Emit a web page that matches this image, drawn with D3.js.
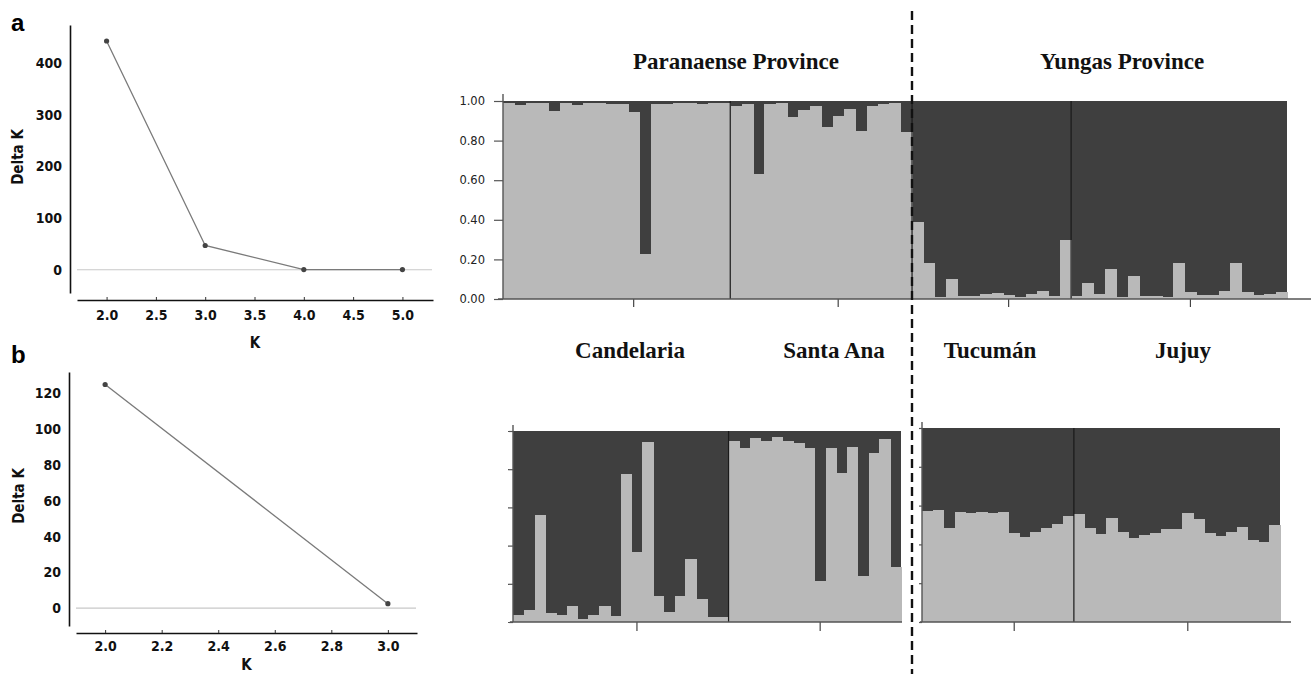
<!DOCTYPE html>
<html lang="en">
<head>
    <meta charset="utf-8">
    <title>Delta K and STRUCTURE plots</title>
    <script type="text/javascript" src="https://cdnjs.cloudflare.com/ajax/libs/d3/7.8.5/d3.min.js"></script>
    <style>
        body { margin: 0; background: #fff; }
        svg { display: block; }
    </style>
</head>
<body>
    <script type="text/javascript">
    // ---- data ----
    var kValuesA = [2, 3, 4, 5];
    var deltaKA = [443, 47, 0.4, 0.3];
    var kValuesB = [2, 3];
    var deltaKB = [125, 2.5];

    var provinces = ["Paranaense Province", "Yungas Province"];
    var populations = ["Candelaria", "Santa Ana", "Tucumán", "Jujuy"];
    var proportionTicks = ["0.00", "0.20", "0.40", "0.60", "0.80", "1.00"];

    // proportion of the light cluster for each individual, K = 2
    var k2Candelaria = [0.99, 0.98, 0.99, 0.99, 0.952, 0.99, 0.98, 0.99, 0.99, 0.983,
                        0.983, 0.944, 0.226, 0.983, 0.983, 0.99, 0.99, 0.983, 0.99, 0.99];
    var k2SantaAna = [0.977, 0.987, 0.633, 0.987, 0.99, 0.919, 0.957, 0.977, 0.868, 0.926,
                      0.962, 0.848, 0.977, 0.985, 0.99, 0.842];
    var k2Tucuman = [0.387, 0.182, 0.012, 0.103, 0.017, 0.017, 0.024, 0.031, 0.018, 0.012,
                     0.024, 0.038, 0.017, 0.30];
    var k2Jujuy = [0.015, 0.082, 0.025, 0.153, 0.012, 0.118, 0.017, 0.015, 0.01, 0.182,
                   0.033, 0.02, 0.02, 0.04, 0.182, 0.033, 0.02, 0.027, 0.033];

    // proportion of the light cluster for each individual, K = 3
    var k3Candelaria = [0.038, 0.061, 0.558, 0.047, 0.038, 0.082, 0.017, 0.038, 0.082, 0.033,
                        0.773, 0.365, 0.942, 0.138, 0.052, 0.138, 0.33, 0.122, 0.024, 0.024];
    var k3SantaAna = [0.948, 0.913, 0.962, 0.948, 0.97, 0.948, 0.939, 0.913, 0.217, 0.913,
                      0.778, 0.918, 0.24, 0.883, 0.956, 0.288];
    var k3Tucuman = [0.572, 0.578, 0.486, 0.569, 0.56, 0.569, 0.56, 0.569, 0.457, 0.436,
                     0.466, 0.486, 0.505, 0.547];
    var k3Jujuy = [0.555, 0.486, 0.452, 0.534, 0.466, 0.431, 0.448, 0.457, 0.478, 0.478,
                   0.56, 0.529, 0.457, 0.443, 0.466, 0.491, 0.422, 0.414, 0.5];

    // individual under the population tick of each group
    var k2TickIndex = [11, 9, 8, 10];
    var k3TickIndex = [11, 8, 8, 10];

    var lightColor = "#b9b9b9",
        darkColor = "#3f3f3f";

    var svg = d3.select("body").append("svg")
        .attr("width", 1311)
        .attr("height", 674);

    // ---- Delta K line charts ----
    function deltaKChart(cfg) {
        var x = d3.scaleLinear().domain(cfg.xDomain).range(cfg.xRange);
        var y = d3.scaleLinear().domain(cfg.yDomain).range(cfg.yRange);
        var g = svg.append("g").attr("class", "deltak");
        var font = "'DejaVu Sans Condensed', 'DejaVu Sans', sans-serif";

        // zero line
        g.append("line")
            .attr("x1", cfg.xRange[0]).attr("x2", cfg.xRange[1] - 1)
            .attr("y1", y(0)).attr("y2", y(0))
            .attr("stroke", "#c8c8c8").attr("stroke-width", 1.2);

        // y axis
        var yAxis = g.append("g")
            .attr("transform", "translate(" + cfg.yAxisX + ",0)")
            .call(d3.axisLeft(y).tickValues(cfg.yTicks).tickSize(0).tickPadding(8));
        // x axis
        var xAxis = g.append("g")
            .attr("transform", "translate(0," + cfg.xAxisY + ")")
            .call(d3.axisBottom(x).tickValues(cfg.xTicks).tickFormat(d3.format(".1f"))
                .tickSizeInner(-3).tickSizeOuter(0).tickPadding(cfg.xPad));

        [yAxis, xAxis].forEach(function(a) {
            a.select(".domain").attr("stroke", "#111").attr("stroke-width", 1.6);
            a.selectAll(".tick line").attr("stroke", "#333");
            a.selectAll("text")
                .attr("font-family", font)
                .attr("font-weight", "bold")
                .attr("font-size", 14)
                .attr("fill", "#111");
        });

        // line and points
        var pts = cfg.k.map(function(d, i) { return [d, cfg.dk[i]]; });
        g.append("path")
            .datum(pts)
            .attr("fill", "none")
            .attr("stroke", "#7a7a7a")
            .attr("stroke-width", 1.3)
            .attr("d", d3.line().x(function(d) { return x(d[0]); }).y(function(d) { return y(d[1]); }));
        g.selectAll(".pt")
            .data(pts)
            .enter().append("circle")
            .attr("cx", function(d) { return x(d[0]); })
            .attr("cy", function(d) { return y(d[1]); })
            .attr("r", 2.6)
            .attr("fill", "#444");

        // axis titles and panel letter
        g.append("text")
            .attr("x", (cfg.xRange[0] + cfg.xRange[1]) / 2)
            .attr("y", cfg.kLabelY)
            .attr("text-anchor", "middle")
            .attr("font-family", font).attr("font-weight", "bold").attr("font-size", 15)
            .attr("fill", "#111")
            .text("K");
        g.append("text")
            .attr("transform", "translate(" + cfg.dkLabel[0] + "," + cfg.dkLabel[1] + ") rotate(-90)")
            .attr("text-anchor", "middle")
            .attr("font-family", font).attr("font-weight", "bold").attr("font-size", 15)
            .attr("fill", "#111")
            .text("Delta K");
        g.append("text")
            .attr("x", 11).attr("y", cfg.letterY)
            .attr("font-family", "'Liberation Sans', Arial, sans-serif")
            .attr("font-weight", "bold").attr("font-size", 24)
            .attr("fill", "#000")
            .text(cfg.letter);
    }

    deltaKChart({
        k: kValuesA, dk: deltaKA,
        xDomain: [1.7, 5.31], xRange: [77, 433],
        yDomain: [-45, 474], yRange: [293, 25],
        yAxisX: 70, xAxisY: 300, xPad: 10,
        yTicks: [0, 100, 200, 300, 400],
        xTicks: [2, 2.5, 3, 3.5, 4, 4.5, 5],
        kLabelY: 348, dkLabel: [23, 157],
        letter: "a", letterY: 31
    });
    deltaKChart({
        k: kValuesB, dk: deltaKB,
        xDomain: [1.897, 3.103], xRange: [76, 417],
        yDomain: [-10, 132], yRange: [626, 372],
        yAxisX: 69, xAxisY: 633, xPad: 8,
        yTicks: [0, 20, 40, 60, 80, 100, 120],
        xTicks: [2, 2.2, 2.4, 2.6, 2.8, 3],
        kLabelY: 670, dkLabel: [24, 496],
        letter: "b", letterY: 363
    });

    // ---- STRUCTURE bar plots ----
    function structurePanel(cfg) {
        var values = [].concat.apply([], cfg.groups);
        var x = d3.scaleBand()
            .domain(d3.range(values.length))
            .range(cfg.xRange)
            .paddingInner(0);
        var y = d3.scaleLinear().domain([0, 1]).range(cfg.yRange);
        var g = svg.append("g").attr("class", "structure");

        // dark cluster fills the panel, light cluster drawn per individual
        g.append("rect")
            .attr("x", cfg.xRange[0])
            .attr("width", cfg.xRange[1] - cfg.xRange[0])
            .attr("y", y(1))
            .attr("height", y(0) - y(1))
            .attr("fill", darkColor);
        g.selectAll(".light")
            .data(values)
            .enter().append("rect")
            .attr("class", "light")
            .attr("shape-rendering", "crispEdges")
            .attr("x", function(d, i) { return x(i); })
            .attr("width", x.bandwidth() + 0.6)
            .attr("y", function(d) { return y(d); })
            .attr("height", function(d) { return y(0) - y(d); })
            .attr("fill", lightColor);

        // population separators and ticks
        var start = 0;
        cfg.groups.forEach(function(grp, gi) {
            var tickX = x(start + cfg.tickIndex[gi]) + x.bandwidth() / 2;
            g.append("line")
                .attr("x1", tickX).attr("x2", tickX)
                .attr("y1", y(0)).attr("y2", y(0) + cfg.tickLen)
                .attr("stroke", "#444").attr("stroke-width", 1.2);
            start += grp.length;
            if (gi < cfg.groups.length - 1) {
                g.append("line")
                    .attr("x1", x(start)).attr("x2", x(start))
                    .attr("y1", y(1)).attr("y2", y(0))
                    .attr("stroke", "#1a1a1a").attr("stroke-width", 1.2);
            }
        });

        // x axis line
        g.append("line")
            .attr("x1", cfg.axisX[0]).attr("x2", cfg.axisX[1])
            .attr("y1", y(0)).attr("y2", y(0))
            .attr("stroke", "#555").attr("stroke-width", 1.6);

        // y axis
        var yAxis = g.append("g")
            .attr("transform", "translate(" + cfg.xRange[0] + ",0)")
            .call(d3.axisLeft(y)
                .tickValues(d3.range(0, 1.01, 0.2))
                .tickFormat(cfg.showLabels ? function(d, i) { return proportionTicks[i]; } : "")
                .tickSizeInner(cfg.yTickLen).tickSizeOuter(0).tickPadding(9));
        yAxis.select(".domain")
            .attr("d", "M0," + cfg.yAxisTop + "V" + y(0))
            .attr("stroke", "#555").attr("stroke-width", 1.4);
        yAxis.selectAll(".tick line").attr("stroke", "#555").attr("stroke-width", 1.2);
        yAxis.selectAll("text")
            .attr("font-family", "'DejaVu Sans', Verdana, sans-serif")
            .attr("font-size", 11.5)
            .attr("fill", "#222");
    }

    // K = 2, all four populations in one panel
    structurePanel({
        groups: [k2Candelaria, k2SantaAna, k2Tucuman, k2Jujuy],
        tickIndex: k2TickIndex,
        xRange: [503, 1287], yRange: [299, 101],
        axisX: [498, 1311], yAxisTop: 94,
        tickLen: 8, yTickLen: 9, showLabels: true
    });
    // K = 3, Paranaense populations
    structurePanel({
        groups: [k3Candelaria, k3SantaAna],
        tickIndex: k3TickIndex.slice(0, 2),
        xRange: [513, 901], yRange: [622, 431],
        axisX: [510, 902], yAxisTop: 425,
        tickLen: 9, yTickLen: 5, showLabels: false
    });
    // K = 3, Yungas populations
    structurePanel({
        groups: [k3Tucuman, k3Jujuy],
        tickIndex: k3TickIndex.slice(2),
        xRange: [922, 1280], yRange: [622, 428],
        axisX: [920, 1291], yAxisTop: 422,
        tickLen: 9, yTickLen: 3, showLabels: false
    });

    // province and population titles
    var serif = "'Liberation Serif', 'Times New Roman', serif";
    svg.selectAll(".province")
        .data(provinces)
        .enter().append("text")
        .attr("x", function(d, i) { return [736, 1122][i]; })
        .attr("y", 69)
        .attr("text-anchor", "middle")
        .attr("font-family", serif).attr("font-weight", "bold").attr("font-size", 23)
        .attr("fill", "#111")
        .text(function(d) { return d; });
    svg.selectAll(".population")
        .data(populations)
        .enter().append("text")
        .attr("x", function(d, i) { return [630, 834, 990, 1183][i]; })
        .attr("y", 358)
        .attr("text-anchor", "middle")
        .attr("font-family", serif).attr("font-weight", "bold").attr("font-size", 23)
        .attr("fill", "#111")
        .text(function(d) { return d; });

    // dashed separator between provinces
    svg.append("line")
        .attr("x1", 912).attr("x2", 912)
        .attr("y1", 11).attr("y2", 674)
        .attr("stroke", "#111")
        .attr("stroke-width", 2.4)
        .attr("stroke-dasharray", "9,5");
    </script>
</body>
</html>
